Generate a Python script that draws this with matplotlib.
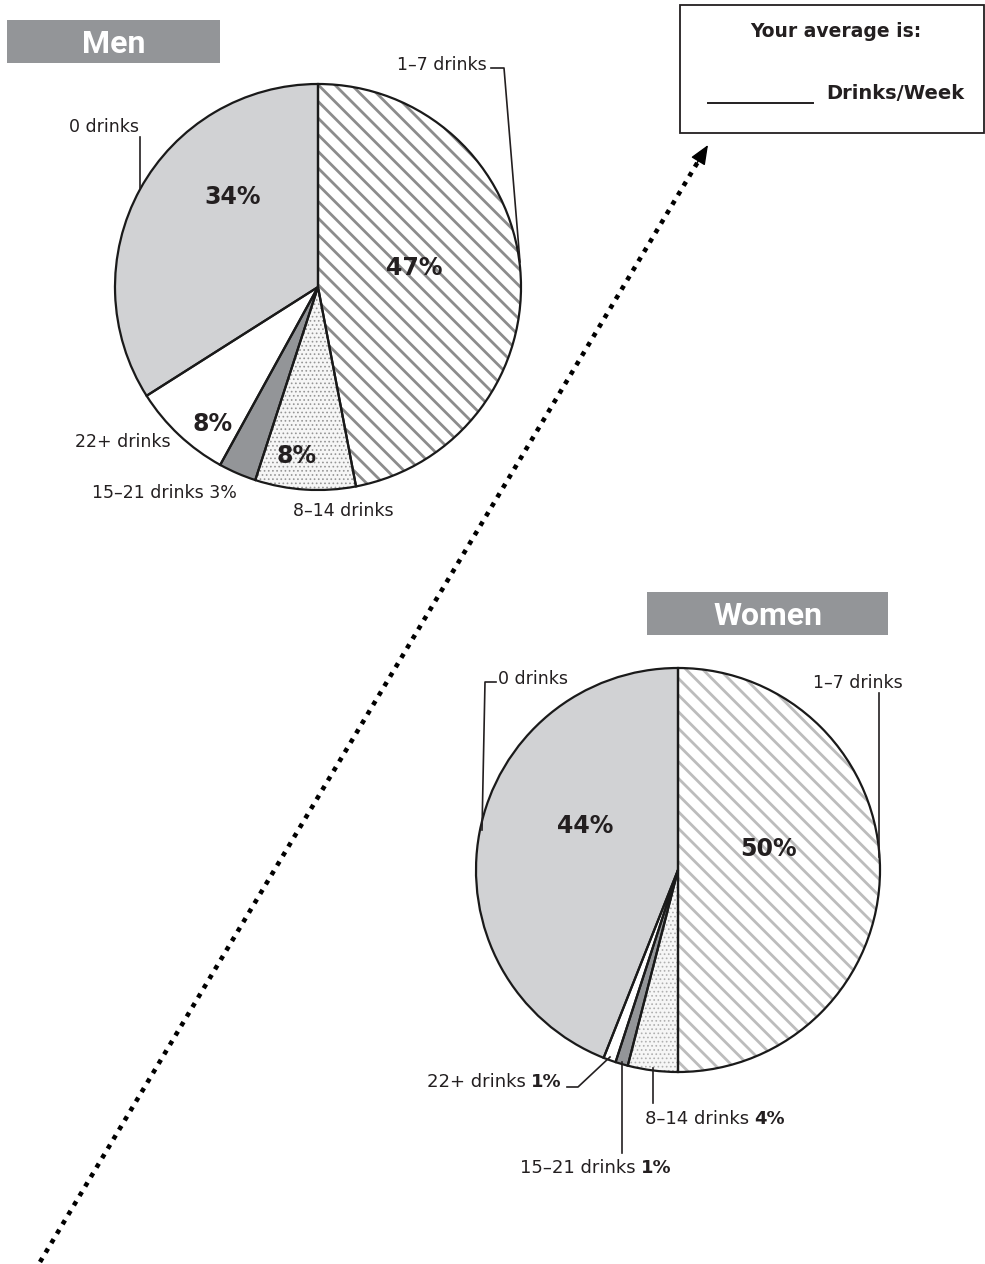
import matplotlib.pyplot as plt
from matplotlib.patches import Rectangle

W, H = 985, 1264

# weekly drinks, share of people (%)
categories = ['1–7 drinks', '8–14 drinks', '15–21 drinks', '22+ drinks', '0 drinks']
men_pct = [47, 8, 3, 8, 34]
women_pct = [50, 4, 1, 1, 44]

fills = ['white', '#f6f6f6', '#939598', 'white', '#d1d2d4']

fig = plt.figure(figsize=(W / 100, H / 100), dpi=100)
ax = fig.add_axes([0, 0, 1, 1])


def draw_pie(values, center, radius, stripe_col, dot_col):
    # plain fills
    plt.rcParams['hatch.linewidth'] = 2.0
    base, _ = ax.pie(values, colors=fills, center=center, radius=radius,
                     startangle=270, counterclock=True,
                     wedgeprops=dict(linewidth=0))
    base[0].set_hatch('\\\\')
    base[0].set_edgecolor(stripe_col)

    # dotted layer for the 8-14 slice
    plt.rcParams['hatch.linewidth'] = 0.7
    dots, _ = ax.pie(values, center=center, radius=radius,
                     startangle=270, counterclock=True,
                     wedgeprops=dict(linewidth=0, fill=False))
    for i, w in enumerate(dots):
        if i == 1:
            w.set_hatch('....')
            w.set_edgecolor(dot_col)
        else:
            w.set_visible(False)

    # black outlines on top
    ax.pie(values, center=center, radius=radius,
           startangle=270, counterclock=True,
           wedgeprops=dict(linewidth=1.6, edgecolor='#1a1a1a', fill=False))


draw_pie(men_pct, (318, 287), 203, '#8c8c8c', '#969696')
draw_pie(women_pct, (678, 870), 202, '#bcbcbc', '#b0b0b0')

ax.set_xlim(0, W)
ax.set_ylim(H, 0)
ax.set_aspect('equal')
ax.axis('off')

ink = '#231f20'
lab = dict(fontsize=12.5, color=ink, va='baseline')
pct = dict(fontsize=17, color=ink, fontweight='bold', ha='center', va='center')
lead = dict(color=ink, lw=1.2)


def split_label(x_end, y, plain, bold, size=13):
    # bold value right-aligned at x_end, plain text tucked in front of it
    b = ax.text(x_end, y, bold, fontsize=size, fontweight='bold', color=ink,
                ha='right', va='baseline')
    ax.annotate(plain, xy=(0, 0), xycoords=b, xytext=(-4, 0),
                textcoords='offset points', fontsize=size, color=ink,
                ha='right', va='bottom')


# title boxes
ax.add_patch(Rectangle((7, 20), 213, 43, color='#939598', lw=0))
ax.text(114, 53, 'Men', family='Roboto', fontweight='bold', fontsize=23,
        color='white', ha='center', va='baseline')
ax.add_patch(Rectangle((647, 592), 241, 43, color='#939598', lw=0))
ax.text(768, 625, 'Women', family='Roboto', fontweight='bold', fontsize=23,
        color='white', ha='center', va='baseline')

# men slice values
ax.text(233, 197, f'{men_pct[4]}%', **pct)
ax.text(414, 268, f'{men_pct[0]}%', **pct)
ax.text(213, 424, f'{men_pct[3]}%', **pct)
ax.text(297, 456, f'{men_pct[1]}%', **pct)

# men labels
ax.text(487, 70, categories[0], ha='right', **lab)
ax.plot([491, 504, 520], [68, 68, 262], **lead)
ax.text(139, 132, categories[4], ha='right', **lab)
ax.plot([140, 140], [137, 188], **lead)
ax.text(75, 447, categories[3], ha='left', **lab)
ax.text(92, 498, f'{categories[2]} {men_pct[2]}%', ha='left', **lab)
ax.text(293, 516, categories[1], ha='left', **lab)

# women slice values
ax.text(585, 826, f'{women_pct[4]}%', **pct)
ax.text(768, 849, f'{women_pct[0]}%', **pct)

# women labels
ax.text(498, 684, categories[4], ha='left', **lab)
ax.plot([496, 485, 482], [682, 682, 830], **lead)
ax.text(903, 688, categories[0], ha='right', **lab)
ax.plot([879, 879], [693, 857], **lead)

split_label(562, 1087, categories[3], f'{women_pct[3]}%')
ax.plot([567, 578, 610], [1087, 1087, 1057], **lead)

split_label(672, 1173, categories[2], f'{women_pct[2]}%')
ax.plot([622, 622], [1062, 1153], **lead)

split_label(785, 1124, categories[1], f'{women_pct[1]}%')
ax.plot([653, 653], [1068, 1103], **lead)

# answer box
ax.add_patch(Rectangle((680, 5), 304, 128, fill=False, ec=ink, lw=1.3))
ax.text(836, 37, 'Your average is:', fontsize=13.5, fontweight='bold',
        color=ink, ha='center', va='baseline')
ax.plot([708, 813], [103, 103], color=ink, lw=1.4)
ax.text(964, 99, 'Drinks/Week', fontsize=14, fontweight='bold',
        color=ink, ha='right', va='baseline')

# dotted arrow
ax.plot([40, 699], [1262, 160], color='black', lw=3.3,
        linestyle=(0, (1, 1.4)), dash_capstyle='butt')
ax.annotate('', xy=(708, 145), xytext=(697, 163),
            arrowprops=dict(arrowstyle='-|>,head_length=1.2,head_width=0.5',
                            color='black', lw=1, shrinkA=0, shrinkB=0))

fig.savefig('out.png', dpi=100)
